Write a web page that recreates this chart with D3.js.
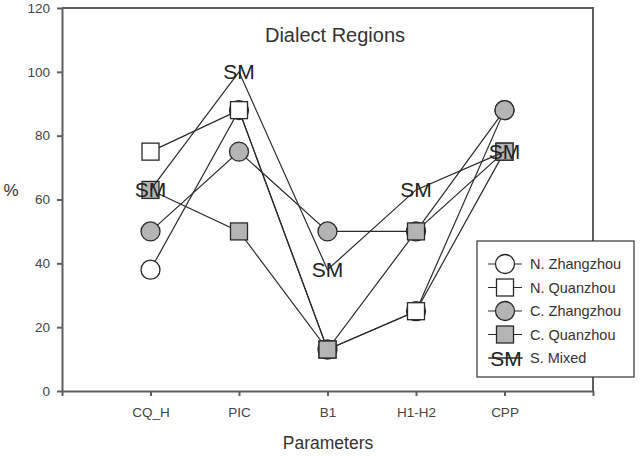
<!DOCTYPE html>
<html>
<head>
<meta charset="utf-8">
<script src="https://cdn.jsdelivr.net/npm/d3@7/dist/d3.min.js"></script>
<style>
  body { margin: 0; background: #fff; }
  svg { display: block; font-family: "Liberation Sans", Arial, sans-serif; }
</style>
</head>
<body>
<svg width="641" height="456"></svg>
<script>
// categories and series
var params = ["CQ_H", "PIC", "B1", "H1-H2", "CPP"];
var nZhangzhou = [38, 88, 13, 25, 88];
var nQuanzhou  = [75, 88, 13, 25, 75];
var cZhangzhou = [50, 75, 50, 50, 88];
var cQuanzhou  = [63, 50, 13, 50, 75];
var sMixed     = [63, 100, 38, 63, 75];
var yTicks     = [0, 20, 40, 60, 80, 100, 120];

var series = [
    {name: "N. Zhangzhou", values: nZhangzhou, shape: "circle", fill: "#fff"},
    {name: "N. Quanzhou",  values: nQuanzhou,  shape: "square", fill: "#fff"},
    {name: "C. Zhangzhou", values: cZhangzhou, shape: "circle", fill: "#b4b4b4"},
    {name: "C. Quanzhou",  values: cQuanzhou,  shape: "square", fill: "#b4b4b4"},
    {name: "S. Mixed",     values: sMixed,     shape: "text",   fill: "none"}
];

var svg = d3.select("svg"),
    plotLeft = 62, plotRight = 593, plotTop = 8, plotBottom = 391,
    axisColor = "#5e5e5e",
    ink = "#2a2a2a";

// positions 1..5 inside a 0..6 band, like the original plot
var x = d3.scaleLinear().domain([0, params.length + 1]).range([plotLeft, plotRight]);
var y = d3.scaleLinear().domain([0, 120]).range([plotBottom, plotTop]);

// frame: top and right lines
svg.append("path")
    .attr("d", "M" + plotLeft + "," + plotTop + "H" + plotRight + "V" + plotBottom)
    .attr("fill", "none").attr("stroke", axisColor).attr("stroke-width", 2);

// y axis
var yAxis = svg.append("g")
    .attr("transform", "translate(" + plotLeft + ",0)")
    .call(d3.axisLeft(y).tickValues(yTicks).tickSize(5).tickSizeOuter(0));
// x axis
var xAxis = svg.append("g")
    .attr("transform", "translate(0," + plotBottom + ")")
    .call(d3.axisBottom(x).tickValues(d3.range(0, params.length + 2))
        .tickFormat(function(d) { return params[d - 1] || ""; })
        .tickSize(5).tickSizeOuter(0));

[yAxis, xAxis].forEach(function(a) {
    a.select(".domain").attr("stroke", axisColor).attr("stroke-width", 2);
    a.selectAll(".tick line").attr("stroke", axisColor).attr("stroke-width", 2);
    a.selectAll(".tick text").attr("fill", "#444").style("font-size", "13.5px")
        .style("font-family", "Liberation Sans, Arial, sans-serif");
});
yAxis.selectAll(".tick text").attr("x", -12);
xAxis.selectAll(".tick text").attr("y", 16);

// titles
svg.append("text").attr("x", 335).attr("y", 42).attr("text-anchor", "middle")
    .attr("fill", "#333").style("font-size", "20px").text("Dialect Regions");
svg.append("text").attr("x", 11).attr("y", 196).attr("text-anchor", "middle")
    .attr("fill", "#333").style("font-size", "17px").text("%");
svg.append("text").attr("x", 328).attr("y", 449).attr("text-anchor", "middle")
    .attr("fill", "#333").style("font-size", "17.5px").text("Parameters");

var line = d3.line()
    .x(function(d, i) { return x(i + 1); })
    .y(function(d) { return y(d); });

/**
 * draw one marker of the given shape at (cx, cy)
 */
function marker(g, s, cx, cy) {
    if (s.shape === "circle") {
        g.append("circle").attr("cx", cx).attr("cy", cy).attr("r", 9.5)
            .attr("fill", s.fill).attr("stroke", ink).attr("stroke-width", 1.3);
    } else if (s.shape === "square") {
        g.append("rect").attr("x", cx - 8.5).attr("y", cy - 8.5)
            .attr("width", 17).attr("height", 17)
            .attr("fill", s.fill).attr("stroke", ink).attr("stroke-width", 1.3);
    } else {
        g.append("text").attr("x", cx).attr("y", cy + 7.5).attr("text-anchor", "middle")
            .attr("fill", "#222").style("font-size", "21px").text("SM");
    }
}

// lines first, then markers on top, series by series
series.forEach(function(s) {
    var g = svg.append("g");
    g.append("path").datum(s.values).attr("d", line)
        .attr("fill", "none").attr("stroke", ink).attr("stroke-width", 1.2);
    s.values.forEach(function(v, i) {
        marker(g, s, x(i + 1), y(v));
    });
});

// legend
var lg = svg.append("g");
lg.append("rect").attr("x", 477).attr("y", 241).attr("width", 157).attr("height", 136)
    .attr("fill", "#fff").attr("stroke", "#333").attr("stroke-width", 1.2);
series.forEach(function(s, i) {
    var cy = 264 + i * 23.5;
    lg.append("line").attr("x1", 488).attr("x2", 522).attr("y1", cy).attr("y2", cy)
        .attr("stroke", ink).attr("stroke-width", 1.2);
    if (s.shape === "text") {
        lg.append("text").attr("x", 506).attr("y", cy + 7.5).attr("text-anchor", "middle")
            .attr("fill", "#222").style("font-size", "21px").text("SM");
        lg.append("line").attr("x1", 489).attr("x2", 523).attr("y1", cy).attr("y2", cy)
            .attr("stroke", ink).attr("stroke-width", 1.2);
    } else {
        marker(lg, s, 505, cy);
    }
    lg.append("text").attr("x", 530).attr("y", cy + 5).attr("fill", "#333")
        .style("font-size", "14.5px").text(s.name);
});
</script>
</body>
</html>
